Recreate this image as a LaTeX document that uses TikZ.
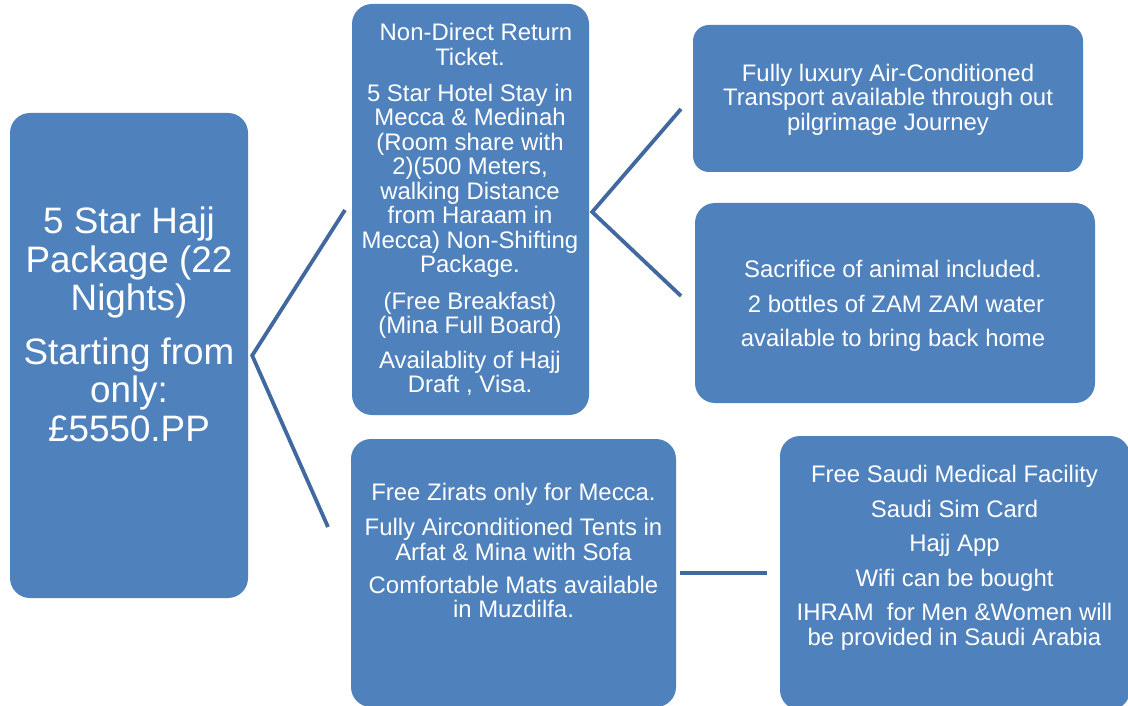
\documentclass[tikz,border=0pt]{standalone}
\usepackage{fontspec}
\setmainfont{Liberation Sans}
\definecolor{boxfill}{HTML}{4F81BD}
\definecolor{linkc}{HTML}{41699F}
\begin{document}
\begin{tikzpicture}[x=1pt,y=-1pt,
  box/.style={fill=boxfill, rounded corners=20pt, inner sep=0pt},
  txt/.style={text=white, align=center, inner sep=0pt, anchor=north},
  small/.style={font=\fontsize{23.9}{24.5}\selectfont},
  link/.style={draw=linkc, line width=3.8pt}]
\useasboundingbox (0,0) rectangle (1128,706);
% boxes
\node[box, minimum width=238pt, minimum height=485pt] (A) at (129,355.5) {};
\node[box, minimum width=237pt, minimum height=411pt] (B) at (470.5,209.5) {};
\node[box, rounded corners=16pt, minimum width=390pt, minimum height=147pt] (C) at (888,98.5) {};
\node[box, minimum width=400pt, minimum height=200pt] (D) at (895,303) {};
\node[box, minimum width=325pt, minimum height=268pt] (E) at (513.5,573) {};
\node[box, minimum width=350pt, minimum height=274pt] (F) at (955,573) {};
% texts
\node[txt, font=\fontsize{36.8}{38.5}\selectfont] (tA) at (129,206.7)
  {5 Star Hajj\\Package (22\\Nights)\\[15pt]Starting from\\only:\\£5550.PP};
\node[txt, small] (tB) at (470,23)
  {\hspace*{12pt}Non-Direct Return\\Ticket.\\[11.5pt]5 Star Hotel Stay in\\Mecca \& Medinah\\(Room share with\\2)(500 Meters,\\walking Distance\\from Haraam in\\Mecca) Non-Shifting\\Package.\\[12pt](Free Breakfast)\\(Mina Full Board)\\[10pt]Availablity of Hajj\\Draft , Visa.};
\node[txt, small] (tC) at (888,63.6)
  {Fully luxury Air-Conditioned\\Transport available through out\\pilgrimage Journey};
\node[txt, font=\fontsize{23.9}{34.5}\selectfont] (tD) at (893,260)
  {Sacrifice of animal included.\\\hspace*{6pt}2 bottles of ZAM ZAM water\\available to bring back home};
\node[txt, small] (tE) at (513.5,483)
  {Free Zirats only for Mecca.\\[10.5pt]Fully Airconditioned Tents in\\Arfat \& Mina with Sofa\\[8.5pt]Comfortable Mats available\\in Muzdilfa.};
\node[txt, small] (tF) at (954.5,465)
  {Free Saudi Medical Facility\\[10pt]Saudi Sim Card\\[10pt]Hajj App\\[10pt]Wifi can be bought\\[10pt]IHRAM\ \ for Men \&Women will\\be provided in Saudi Arabia};
% connectors
\coordinate (a1) at (345,210);
\coordinate (a2) at (328,527);
\coordinate (b1) at (681,109);
\coordinate (b2) at (681,296);
\draw[link] (a1) -- ([xshift=4pt]A.east) -- (a2);
\draw[link] (b1) -- ([xshift=3pt,yshift=-2.5pt]B.east) -- (b2);
\draw[link] ([xshift=4pt]E.east) -- ([xshift=-13pt]F.west);
\end{tikzpicture}
\end{document}
